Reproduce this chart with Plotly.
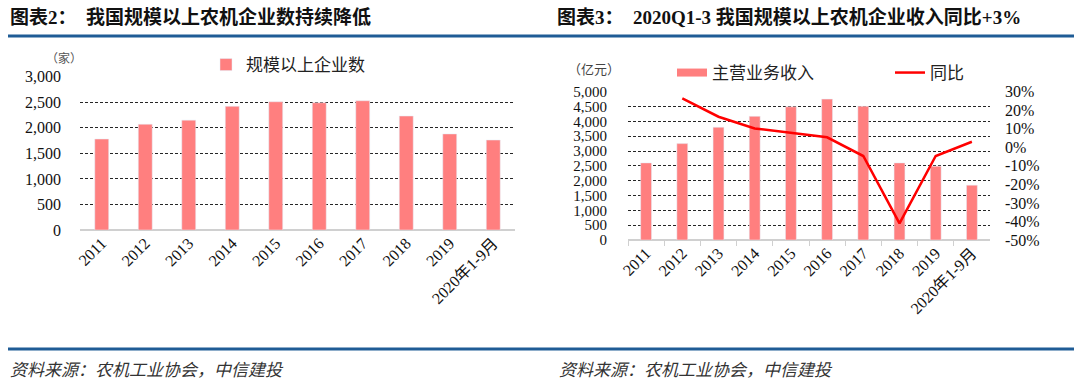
import plotly.graph_objects as go

# ---------------- data ----------------
years = ["2011", "2012", "2013", "2014", "2015", "2016", "2017", "2018", "2019", "2020年1-9月"]
firm_counts = [1780, 2070, 2150, 2420, 2510, 2490, 2530, 2230, 1880, 1760]
revenue = [2600, 3250, 3800, 4170, 4490, 4750, 4510, 2600, 2490, 1850]
yoy_pct = [None, 26.4, 16.5, 10.2, 7.9, 5.4, -4.7, -41.0, -4.7, 3.0]

left_ticks = [0, 500, 1000, 1500, 2000, 2500, 3000]
right_ticks = [0, 500, 1000, 1500, 2000, 2500, 3000, 3500, 4000, 4500, 5000]
pct_ticks = [-50, -40, -30, -20, -10, 0, 10, 20, 30]
pct_labels = [f"{v}%" for v in pct_ticks]

title_left = "图表2：  我国规模以上农机企业数持续降低"
title_right = "图表3：  2020Q1-3 我国规模以上农机企业收入同比+3%"
source_text = "资料来源：农机工业协会，中信建投"

# ---------------- style ----------------
W, H = 1080, 384
BAR = "#FF7F7F"
LINE = "#FF0000"
GRID = "#262626"
AXIS = "#d0d0d0"
BLUE = "#1F5C96"
SERIF = "Liberation Serif, Noto Sans CJK SC"
SANS = "Noto Sans CJK SC"

def px_x(v):
    return v / W

def px_y(v):
    return 1 - v / H

fig = go.Figure()

# left chart
fig.add_trace(go.Bar(
    x=years, y=firm_counts, name="规模以上企业数", marker_color=BAR,
    width=0.32, xaxis="x", yaxis="y", legend="legend",
))

# right chart
fig.add_trace(go.Bar(
    x=years, y=revenue, name="主营业务收入", marker_color=BAR,
    width=0.3, xaxis="x2", yaxis="y2", showlegend=False,
))
fig.add_trace(go.Scatter(
    x=[None], y=[None], mode="lines", name="主营业务收入",
    line=dict(color=BAR, width=8), xaxis="x2", yaxis="y2", legend="legend2",
))
fig.add_trace(go.Scatter(
    x=years, y=yoy_pct, mode="lines", name="同比",
    line=dict(color=LINE, width=2.5), xaxis="x2", yaxis="y3",
    legend="legend3", connectgaps=False,
))

tick_font = dict(family=SERIF, size=16, color="#111111")
tick_font_small = dict(family=SERIF, size=15, color="#111111")

fig.update_layout(
    width=W, height=H,
    margin=dict(l=0, r=0, t=0, b=0, autoexpand=False),
    paper_bgcolor="white", plot_bgcolor="white",
    bargap=0,
    xaxis=dict(
        domain=[px_x(80), px_x(515)], anchor="y", automargin=False,
        showgrid=False, showline=False, ticks="",
        tickangle=-45, tickfont=tick_font,
    ),
    yaxis=dict(
        domain=[px_y(230), px_y(76.7)], anchor="x", automargin=False,
        range=[0, 3000], tickvals=left_ticks, tickformat=",",
        showgrid=True, gridcolor=GRID, griddash="3px,2px", gridwidth=1,
        zeroline=True, zerolinecolor=AXIS, zerolinewidth=1.5,
        tickfont=tick_font, ticklabelstandoff=18,
    ),
    xaxis2=dict(
        domain=[px_x(628), px_x(990)], anchor="y2", automargin=False,
        showgrid=False, showline=False,
        ticks="outside", tickson="boundaries", ticklen=5, tickcolor=AXIS,
        tickangle=-45, tickfont=tick_font,
    ),
    yaxis2=dict(
        domain=[px_y(240), px_y(91.7)], anchor="x2", automargin=False,
        range=[0, 5000], tickvals=right_ticks, tickformat=",",
        showgrid=True, gridcolor=GRID, griddash="3px,2px", gridwidth=1,
        zeroline=True, zerolinecolor=AXIS, zerolinewidth=1.5,
        tickfont=tick_font_small, ticklabelstandoff=20,
    ),
    yaxis3=dict(
        overlaying="y2", side="right", anchor="x2", automargin=False,
        range=[-50, 30], tickvals=pct_ticks, ticktext=pct_labels,
        tickmode="array",
        showgrid=False, zeroline=False,
        tickfont=tick_font, ticklabelstandoff=14,
    ),
    legend=dict(
        x=px_x(206), y=px_y(65), xanchor="left", yanchor="middle",
        orientation="h", bgcolor="rgba(0,0,0,0)",
        font=dict(family=SANS, size=17, color="#222222"),
    ),
    legend2=dict(
        x=px_x(672), y=px_y(73), xanchor="left", yanchor="middle",
        orientation="h", bgcolor="rgba(0,0,0,0)",
        font=dict(family=SANS, size=17, color="#222222"),
    ),
    legend3=dict(
        x=px_x(890), y=px_y(73), xanchor="left", yanchor="middle",
        orientation="h", bgcolor="rgba(0,0,0,0)",
        font=dict(family=SANS, size=17, color="#222222"),
    ),
    showlegend=True,
)

# header / footer rules
for yy in (36, 349):
    fig.add_shape(type="line", xref="paper", yref="paper",
                  x0=px_x(8), x1=px_x(1074), y0=px_y(yy), y1=px_y(yy),
                  line=dict(color=BLUE, width=3))

annotations = [
    dict(text="<b>" + title_left + "</b>", x=px_x(8), y=px_y(17),
         font=dict(family=SERIF, size=19, color="#111111")),
    dict(text="<b>" + title_right + "</b>", x=px_x(555), y=px_y(17),
         font=dict(family=SERIF, size=19, color="#111111")),
    dict(text="<i>" + source_text + "</i>", x=px_x(8), y=px_y(368),
         font=dict(family=SANS, size=17, color="#333333")),
    dict(text="<i>" + source_text + "</i>", x=px_x(557), y=px_y(368),
         font=dict(family=SANS, size=17, color="#333333")),
    dict(text="（家）", x=px_x(44), y=px_y(58),
         font=dict(family=SANS, size=12, color="#555555")),
    dict(text="（亿元）", x=px_x(566), y=px_y(68),
         font=dict(family=SANS, size=13, color="#444444")),
]
for a in annotations:
    fig.add_annotation(xref="paper", yref="paper", xanchor="left",
                       yanchor="middle", showarrow=False, **a)

fig.write_html(
    "out.html",
    config={"displayModeBar": False, "staticPlot": True},
    post_script="document.body.style.margin='0';document.body.style.padding='0';",
)
